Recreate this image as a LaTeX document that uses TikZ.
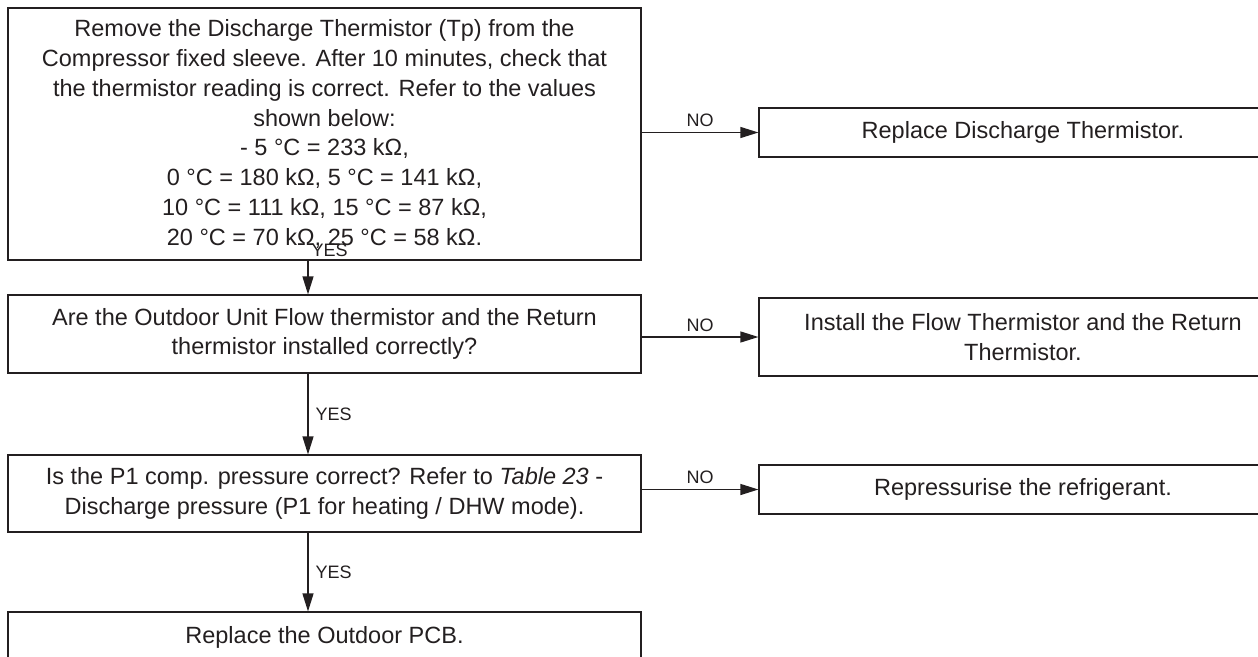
\documentclass[tikz,border=0pt]{standalone}
\usepackage{fontspec}
\setmainfont{Liberation Sans}
\usetikzlibrary{arrows.meta,positioning}
\definecolor{ink}{HTML}{231f20}

\begin{document}
\begin{tikzpicture}[
  x=1pt, y=-1pt,
  font=\fontsize{23.5}{29.8}\selectfont,
  text=ink,
  box/.style={draw=ink, line width=1.2pt, minimum width=633pt, align=center, inner sep=0pt},
  act/.style={draw=ink, line width=1.2pt, minimum width=528pt, align=center, inner sep=0pt},
  lab/.style={font=\fontsize{18}{20}\selectfont, inner sep=3pt},
  flow/.style={draw=ink, line width=1.2pt, -{Triangle[length=18pt,width=11pt]}}]
  \useasboundingbox (0,0) rectangle (1258,656);
  \coordinate (spine) at (308,0);
  % checks on the left
  \node[box, minimum height=252pt] (tp) at (324.5,134) {Remove the Discharge Thermistor (Tp) from the\\
    Compressor fixed sleeve. After 10 minutes, check that\\
    the thermistor reading is correct. Refer to the values\\
    shown below:\\
    - 5 °C = 233 kΩ,\\
    0 °C = 180 kΩ, 5 °C = 141 kΩ,\\
    10 °C = 111 kΩ, 15 °C = 87 kΩ,\\
    20 °C = 70 kΩ, 25 °C = 58 kΩ.};
  \node[box, minimum height=78pt] (flowret) at (324.5,334) {Are the Outdoor Unit Flow thermistor and the Return\\
    thermistor installed correctly?};
  \node[box, minimum height=77pt] (pone) at (324.5,493.5) {Is the P1 comp. pressure correct? Refer to \textit{Table 23} -\\
    Discharge pressure (P1 for heating / DHW mode).};
  \node[box, minimum height=50pt] (pcb) at (324.5,637) {Replace the Outdoor PCB.};
  % actions on the right
  \node[act, minimum height=49pt] (reptp) at (1023,132.5) {Replace Discharge Thermistor.};
  \node[act, minimum height=78pt] (inst) at (1023,337) {Install the Flow Thermistor and the Return\\
    Thermistor.};
  \node[act, minimum height=49pt] (repress) at (1023,489.5) {Repressurise the refrigerant.};
  % yes path
  \draw[flow] (tp.south -| spine) -- node[lab, pos=-0.3, right]{YES} (flowret.north -| spine);
  \draw[flow] (flowret.south -| spine) -- node[lab, midway, right=4pt]{YES} (pone.north -| spine);
  \draw[flow] (pone.south -| spine) -- node[lab, midway, right=4pt]{YES} (pcb.north -| spine);
  % no path
  \draw[flow] (reptp.west -| tp.east) -- node[lab, midway, above=2pt]{NO} (reptp.west);
  \draw[flow] (inst.west -| flowret.east) -- node[lab, midway, above=2pt]{NO} (inst.west);
  \draw[flow] (repress.west -| pone.east) -- node[lab, midway, above=2pt]{NO} (repress.west);
\end{tikzpicture}
\end{document}
